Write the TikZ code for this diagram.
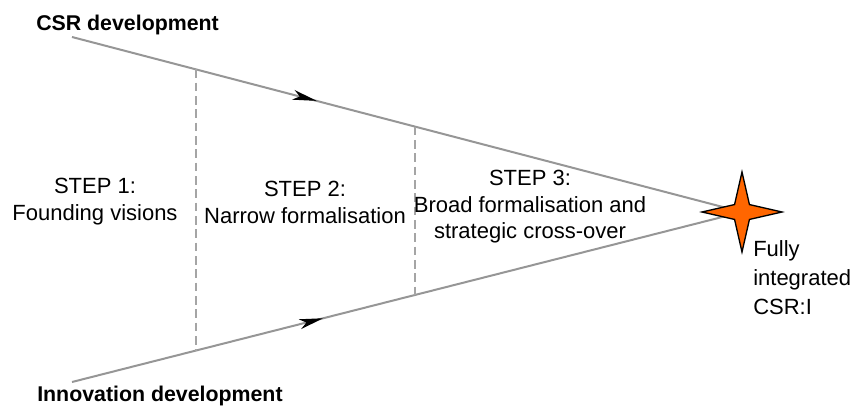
\documentclass[tikz,border=0pt]{standalone}
\usepackage{fontspec}
\setmainfont{Liberation Sans}
\usepackage{tikz}
\usetikzlibrary{arrows.meta,shapes.geometric,decorations.markings}
\definecolor{lineclr}{RGB}{150,150,150}
\definecolor{dashclr}{RGB}{165,165,165}
\definecolor{starclr}{RGB}{255,102,0}
\tikzstyle{flow} = [lineclr, line width=1.5pt]
\tikzstyle{divider} = [dashclr, line width=1.5pt, dash pattern=on 6.5pt off 3.5pt]
\tikzstyle{headline} = [font=\bfseries\fontsize{16}{20}\selectfont, inner sep=0pt, anchor=base west]
\tikzstyle{steptext} = [font=\fontsize{16.5}{20}\selectfont, align=center, inner sep=0pt, anchor=north]
\tikzset{flowmark/.style={postaction={decorate, decoration={markings, mark=at position #1 with {\arrow[black]{Stealth[length=18pt,width=7.5pt,inset=5pt]}}}}}}

\begin{document}
\begin{tikzpicture}[x=0.75pt, y=-0.75pt]
    \useasboundingbox (0,0) rectangle (850,407);

    \node (csr) [headline] at (36,30) {CSR development};
    \node (inno) [headline] at (37,401) {Innovation development};
    \coordinate (csrstart) at (72,37);
    \coordinate (innostart) at (72,382);
    \coordinate (goalpt) at (742,212);

    \draw [flow, flowmark=0.365] (csrstart) -- coordinate[pos=0.185] (t1) coordinate[pos=0.512] (t2) (goalpt);
    \draw [flow, flowmark=0.375] (innostart) -- coordinate[pos=0.185] (b1) coordinate[pos=0.512] (b2) (goalpt);

    \draw [divider] (t1) -- (b1);
    \draw [divider] (t2) -- (b2);

    \node (goal) [star, star points=4, star point ratio=3.8, minimum size=60pt, inner sep=0pt, draw=black, line width=1pt, fill=starclr] at (goalpt) {};

    \node (step1) [steptext] at (95,178) {STEP 1:\\Founding visions};
    \node (step2) [steptext] at (305,181) {STEP 2:\\Narrow formalisation};
    \node (step3) [steptext] at (530,170) {STEP 3:\\Broad formalisation and\\strategic cross-over};
    \node (result) [font=\fontsize{16.5}{22}\selectfont, align=left, inner sep=0pt, anchor=north west] at (753,240) {Fully\\integrated\\CSR:I};

\end{tikzpicture}
\end{document}
